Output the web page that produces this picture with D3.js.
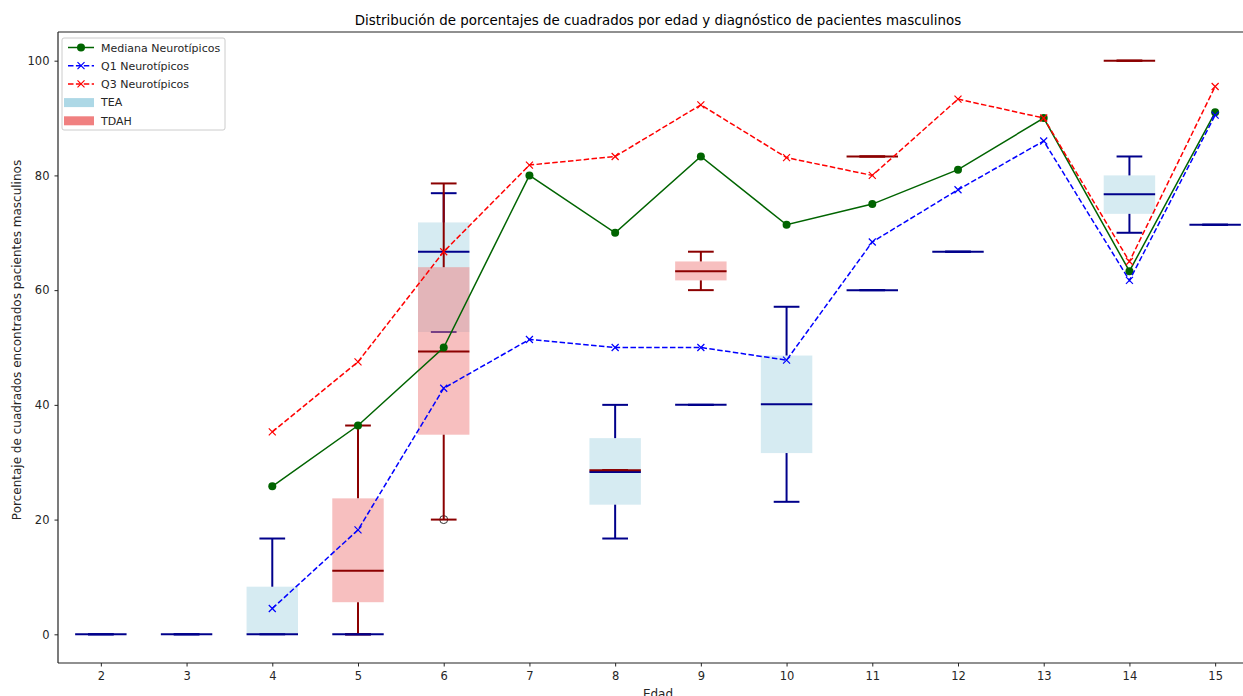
<!DOCTYPE html>
<html>
<head>
<meta charset="utf-8">
<script src="https://cdn.jsdelivr.net/npm/d3@7"></script>
<style>
  body { margin: 0; background: #fff; }
  text { font-family: "DejaVu Sans", sans-serif; fill: #262626; }
</style>
</head>
<body>
<svg id="chart" width="1243" height="696"></svg>
<script>
// neurotypical reference lines
var ages = [4, 5, 6, 7, 8, 9, 10, 11, 12, 13, 14, 15]
var medianNT = [25.8, 36.4, 50, 80, 70, 83.3, 71.4, 75, 81, 90, 63.3, 91]
var q1NT = [4.5, 18.2, 42.9, 51.4, 50, 50, 47.8, 68.4, 77.5, 86, 61.7, 90.5]
var q3NT = [35.3, 47.5, 66.7, 81.8, 83.3, 92.3, 83.1, 80, 93.3, 90, 65, 95.5]

// box stats: [age, whiskerLow, q1, median, q3, whiskerHigh]
var teaBoxes = [
  [2, 0, 0, 0, 0, 0],
  [3, 0, 0, 0, 0, 0],
  [4, 0, 0, 0, 8.3, 16.7],
  [5, 0, 0, 0, 0, 0],
  [6, 52.7, 52.7, 66.7, 71.8, 76.9],
  [8, 16.7, 22.6, 28.3, 34.2, 40],
  [9, 40, 40, 40, 40, 40],
  [10, 23.1, 31.6, 40.1, 48.6, 57.1],
  [11, 60, 60, 60, 60, 60],
  [12, 66.7, 66.7, 66.7, 66.7, 66.7],
  [14, 70, 73.3, 76.7, 80, 83.3],
  [15, 71.4, 71.4, 71.4, 71.4, 71.4]
]
var teaFliers = [[6, 20]]

var tdahBoxes = [
  [5, 0, 5.6, 11.1, 23.7, 36.4],
  [6, 20, 34.8, 49.3, 64, 78.6],
  [8, 28.6, 28.6, 28.6, 28.6, 28.6],
  [9, 60, 61.7, 63.3, 65, 66.7],
  [11, 83.3, 83.3, 83.3, 83.3, 83.3],
  [14, 100, 100, 100, 100, 100]
]
var tdahFliers = []

var xTicks = [2, 3, 4, 5, 6, 7, 8, 9, 10, 11, 12, 13, 14, 15]
var yTicks = [0, 20, 40, 60, 80, 100]

var svg = d3.select("#chart")
var mLeft = 58, mRight = 1258, mTop = 32, mBottom = 663

var x = d3.scaleLinear().domain([1.5, 15.5]).range([mLeft, mRight])
var y = d3.scaleLinear().domain([-5, 105]).range([mBottom, mTop])

// title
svg.append("text")
  .attr("x", (mLeft + mRight) / 2).attr("y", 25)
  .attr("text-anchor", "middle")
  .style("font-size", "13.4px").style("fill", "#000")
  .text("Distribución de porcentajes de cuadrados por edad y diagnóstico de pacientes masculinos")

var bw = 0.3, cw = 0.15
var gBoxes = svg.append("g")
var gMedians = svg.append("g")

// boxes, whiskers and caps (medians go in their own group, on top like matplotlib)
function drawBoxes(data, fliers, fill, stroke) {
  var g = gBoxes.append("g")
  data.forEach(function(d) {
    var a = d[0]
    g.append("rect")
      .attr("x", x(a - bw)).attr("width", x(a + bw) - x(a - bw))
      .attr("y", y(d[4])).attr("height", Math.max(0, y(d[2]) - y(d[4])))
      .attr("fill", fill).attr("fill-opacity", 0.5)
    // whiskers
    g.append("line").attr("x1", x(a)).attr("x2", x(a))
      .attr("y1", y(d[2])).attr("y2", y(d[1]))
      .attr("stroke", stroke).attr("stroke-width", 2)
    g.append("line").attr("x1", x(a)).attr("x2", x(a))
      .attr("y1", y(d[4])).attr("y2", y(d[5]))
      .attr("stroke", stroke).attr("stroke-width", 2)
    // caps
    ;[d[1], d[5]].forEach(function(v) {
      g.append("line").attr("x1", x(a - cw)).attr("x2", x(a + cw))
        .attr("y1", y(v)).attr("y2", y(v))
        .attr("stroke", stroke).attr("stroke-width", 2)
    })
    gMedians.append("line").attr("x1", x(a - bw)).attr("x2", x(a + bw))
      .attr("y1", y(d[3])).attr("y2", y(d[3]))
      .attr("stroke", stroke).attr("stroke-width", 2)
  })
  fliers.forEach(function(f) {
    g.append("circle").attr("cx", x(f[0])).attr("cy", y(f[1])).attr("r", 4)
      .attr("fill", "none").attr("stroke", "#333").attr("stroke-width", 1)
  })
}

drawBoxes(teaBoxes, teaFliers, "lightblue", "darkblue")
drawBoxes(tdahBoxes, tdahFliers, "lightcoral", "darkred")

// neurotypical lines
var line = d3.line().x(function(d) { return x(d[0]) }).y(function(d) { return y(d[1]) })

function drawSeries(vals, color, dashed, marker) {
  var pts = ages.map(function(a, i) { return [a, vals[i]] })
  var g = svg.append("g")
  g.append("path").datum(pts)
    .attr("d", line).attr("fill", "none")
    .attr("stroke", color).attr("stroke-width", 1.5)
    .attr("stroke-dasharray", dashed ? "5.5,2.4" : null)
  pts.forEach(function(p) {
    if (marker == "o") {
      g.append("circle").attr("cx", x(p[0])).attr("cy", y(p[1])).attr("r", 4).attr("fill", color)
    } else {
      g.append("path").attr("transform", "translate(" + x(p[0]) + "," + y(p[1]) + ")")
        .attr("d", "M-3.5,-3.5L3.5,3.5M-3.5,3.5L3.5,-3.5")
        .attr("stroke", color).attr("stroke-width", 1.2)
    }
  })
}

drawSeries(medianNT, "darkgreen", false, "o")
drawSeries(q1NT, "blue", true, "x")
drawSeries(q3NT, "red", true, "x")

// axes
var xAxis = svg.append("g").attr("transform", "translate(0," + mBottom + ")")
  .call(d3.axisBottom(x).tickValues(xTicks).tickSize(3.5).tickPadding(5).tickFormat(d3.format("d")))
var yAxis = svg.append("g").attr("transform", "translate(" + mLeft + ",0)")
  .call(d3.axisLeft(y).tickValues(yTicks).tickSize(3.5).tickPadding(5).tickFormat(d3.format("d")))
;[xAxis, yAxis].forEach(function(ax) {
  ax.selectAll("text").style("font-size", "11.5px").style("font-family", "DejaVu Sans").attr("fill", "#262626")
  ax.selectAll("line").attr("stroke", "#262626")
  ax.select(".domain").remove()
})
// spines
svg.append("line").attr("x1", mLeft).attr("x2", mRight).attr("y1", mBottom).attr("y2", mBottom).attr("stroke", "#222").attr("stroke-width", 1.2)
svg.append("line").attr("x1", mLeft).attr("x2", mRight).attr("y1", mTop).attr("y2", mTop).attr("stroke", "#222").attr("stroke-width", 1.2)
svg.append("line").attr("x1", mLeft).attr("x2", mLeft).attr("y1", mTop).attr("y2", mBottom).attr("stroke", "#222").attr("stroke-width", 1.2)

svg.append("text").attr("x", (mLeft + mRight) / 2).attr("y", 698)
  .attr("text-anchor", "middle").style("font-size", "12px").text("Edad")
svg.append("text")
  .attr("transform", "translate(21,340) rotate(-90)")
  .attr("text-anchor", "middle").style("font-size", "12px")
  .text("Porcentaje de cuadrados encontrados pacientes masculinos")

// legend
var legendItems = [
  {label: "Mediana Neurotípicos", type: "line", color: "darkgreen", marker: "o"},
  {label: "Q1 Neurotípicos", type: "line", color: "blue", marker: "x", dash: true},
  {label: "Q3 Neurotípicos", type: "line", color: "red", marker: "x", dash: true},
  {label: "TEA", type: "patch", color: "lightblue"},
  {label: "TDAH", type: "patch", color: "lightcoral"}
]
var lg = svg.append("g").attr("transform", "translate(62,38)")
lg.append("rect").attr("width", 163).attr("height", 92).attr("rx", 2)
  .attr("fill", "#fff").attr("fill-opacity", 0.8).attr("stroke", "#ccc")
legendItems.forEach(function(it, i) {
  var cy = 9.5 + i * 18.2
  if (it.type == "line") {
    lg.append("line").attr("x1", 6).attr("x2", 32).attr("y1", cy).attr("y2", cy)
      .attr("stroke", it.color).attr("stroke-width", 1.5)
      .attr("stroke-dasharray", it.dash ? "5.5,2.4" : null)
    if (it.marker == "o") {
      lg.append("circle").attr("cx", 19).attr("cy", cy).attr("r", 4).attr("fill", it.color)
    } else {
      lg.append("path").attr("transform", "translate(19," + cy + ")")
        .attr("d", "M-3.5,-3.5L3.5,3.5M-3.5,3.5L3.5,-3.5")
        .attr("stroke", it.color).attr("stroke-width", 1.2)
    }
  } else {
    lg.append("rect").attr("x", 2).attr("y", cy - 4).attr("width", 30).attr("height", 9).attr("fill", it.color)
  }
  lg.append("text").attr("x", 39).attr("y", cy + 4.2).style("font-size", "11px").text(it.label)
})
</script>
</body>
</html>
